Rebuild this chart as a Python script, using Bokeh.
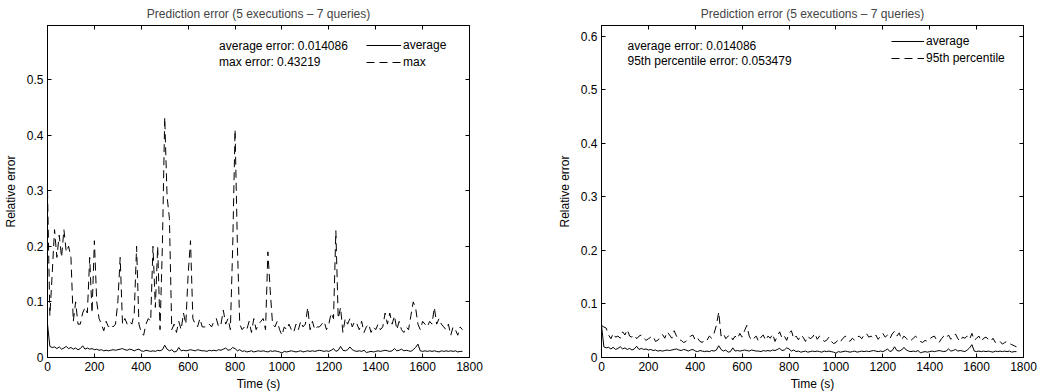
from bokeh.plotting import figure
from bokeh.layouts import row
from bokeh.models import LinearAxis, Label, FixedTicker, Range1d, CustomLabelingPolicy
from bokeh.embed import file_html
from bokeh.resources import INLINE

time_s = list(range(0, 1780, 10))

avg_error = [
    0.060, 0.020, 0.018, 0.019, 0.016, 0.019, 0.015, 0.017, 0.020, 0.016,
    0.018, 0.015, 0.017, 0.014, 0.016, 0.021, 0.015, 0.017, 0.015, 0.016,
    0.014, 0.015, 0.013, 0.014, 0.012, 0.013, 0.012, 0.013, 0.014, 0.013,
    0.014, 0.015, 0.016, 0.014, 0.013, 0.015, 0.014, 0.012, 0.014, 0.015,
    0.012, 0.011, 0.013, 0.012, 0.011, 0.012, 0.011, 0.013, 0.012, 0.014,
    0.022, 0.015, 0.012, 0.014, 0.010, 0.011, 0.018, 0.012, 0.013, 0.012,
    0.013, 0.014, 0.013, 0.012, 0.014, 0.013, 0.012, 0.012, 0.011, 0.013,
    0.012, 0.013, 0.012, 0.014, 0.013, 0.015, 0.017, 0.013, 0.014, 0.018,
    0.016, 0.012, 0.014, 0.011, 0.012, 0.010, 0.011, 0.012, 0.010, 0.011,
    0.012, 0.011, 0.012, 0.011, 0.010, 0.012, 0.011, 0.012, 0.011, 0.010,
    0.008, 0.011, 0.010, 0.011, 0.012, 0.011, 0.010, 0.011, 0.012, 0.010,
    0.011, 0.012, 0.011, 0.012, 0.011, 0.012, 0.013, 0.012, 0.011, 0.012,
    0.011, 0.013, 0.016, 0.011, 0.013, 0.020, 0.013, 0.012, 0.014, 0.019,
    0.014, 0.012, 0.011, 0.012, 0.011, 0.013, 0.009, 0.010, 0.011, 0.010,
    0.011, 0.012, 0.011, 0.012, 0.013, 0.012, 0.011, 0.012, 0.016, 0.012,
    0.013, 0.015, 0.012, 0.013, 0.012, 0.011, 0.014, 0.018, 0.024, 0.012,
    0.011, 0.012, 0.011, 0.012, 0.011, 0.012, 0.011, 0.010, 0.012, 0.011,
    0.012, 0.011, 0.012, 0.011, 0.012, 0.010, 0.011, 0.011,
]

max_error = [
    0.300, 0.075, 0.150, 0.230, 0.180, 0.220, 0.180, 0.230, 0.190, 0.200,
    0.180, 0.065, 0.100, 0.060, 0.060, 0.080, 0.090, 0.080, 0.180, 0.080,
    0.210, 0.100, 0.070, 0.060, 0.048, 0.065, 0.055, 0.060, 0.055, 0.060,
    0.100, 0.180, 0.060, 0.070, 0.060, 0.065, 0.060, 0.080, 0.200, 0.060,
    0.045, 0.040, 0.060, 0.070, 0.065, 0.200, 0.090, 0.200, 0.050, 0.200,
    0.432, 0.290, 0.250, 0.050, 0.060, 0.045, 0.065, 0.050, 0.080, 0.060,
    0.150, 0.210, 0.070, 0.060, 0.055, 0.070, 0.055, 0.055, 0.055, 0.060,
    0.055, 0.065, 0.070, 0.055, 0.060, 0.085, 0.060, 0.070, 0.050, 0.200,
    0.410, 0.200, 0.060, 0.050, 0.055, 0.050, 0.065, 0.045, 0.070, 0.050,
    0.060, 0.065, 0.070, 0.050, 0.190, 0.120, 0.060, 0.055, 0.065, 0.050,
    0.040, 0.055, 0.050, 0.060, 0.050, 0.045, 0.060, 0.050, 0.065, 0.055,
    0.060, 0.090, 0.050, 0.065, 0.050, 0.055, 0.055, 0.060, 0.065, 0.050,
    0.060, 0.080, 0.070, 0.228, 0.070, 0.090, 0.045, 0.070, 0.060, 0.070,
    0.055, 0.065, 0.060, 0.050, 0.065, 0.045, 0.055, 0.060, 0.045, 0.055,
    0.050, 0.060, 0.050, 0.055, 0.080, 0.060, 0.080, 0.060, 0.075, 0.050,
    0.065, 0.050, 0.045, 0.055, 0.050, 0.075, 0.100, 0.090, 0.060, 0.050,
    0.065, 0.060, 0.055, 0.065, 0.060, 0.090, 0.060, 0.070, 0.060, 0.055,
    0.050, 0.060, 0.040, 0.055, 0.050, 0.040, 0.055, 0.050,
]

p95_error = [
    0.060, 0.057, 0.055, 0.042, 0.035, 0.045, 0.038, 0.040, 0.036, 0.048,
    0.042, 0.052, 0.040, 0.038, 0.042, 0.035, 0.040, 0.042, 0.036, 0.032,
    0.035, 0.038, 0.040, 0.030, 0.032, 0.038, 0.043, 0.036, 0.048, 0.042,
    0.036, 0.050, 0.040, 0.033, 0.032, 0.028, 0.030, 0.035, 0.040, 0.042,
    0.032, 0.036, 0.030, 0.028, 0.034, 0.032, 0.040, 0.036, 0.045, 0.060,
    0.085, 0.040, 0.045, 0.035, 0.040, 0.042, 0.033, 0.040, 0.035, 0.045,
    0.038, 0.050, 0.060, 0.040, 0.032, 0.036, 0.040, 0.030, 0.038, 0.042,
    0.032, 0.040, 0.036, 0.044, 0.030, 0.040, 0.048, 0.036, 0.040, 0.032,
    0.045, 0.050, 0.035, 0.040, 0.033, 0.042, 0.038, 0.030, 0.040, 0.035,
    0.038, 0.045, 0.034, 0.040, 0.036, 0.030, 0.032, 0.038, 0.030, 0.026,
    0.028, 0.034, 0.030, 0.036, 0.040, 0.034, 0.030, 0.036, 0.032, 0.038,
    0.040, 0.035, 0.042, 0.045, 0.038, 0.040, 0.036, 0.042, 0.034, 0.040,
    0.045, 0.038, 0.042, 0.035, 0.044, 0.049, 0.040, 0.046, 0.033, 0.040,
    0.036, 0.030, 0.032, 0.036, 0.040, 0.033, 0.030, 0.028, 0.032, 0.030,
    0.035, 0.038, 0.040, 0.032, 0.028, 0.035, 0.040, 0.036, 0.042, 0.034,
    0.038, 0.044, 0.035, 0.030, 0.038, 0.036, 0.040, 0.034, 0.045, 0.032,
    0.036, 0.040, 0.030, 0.036, 0.038, 0.034, 0.030, 0.036, 0.028, 0.032,
    0.030, 0.025, 0.028, 0.030, 0.026, 0.024, 0.022, 0.020,
]

x_ticks = [0, 200, 400, 600, 800, 1000, 1200, 1400, 1600, 1800]
y_ticks_left = [0, 0.1, 0.2, 0.3, 0.4, 0.5]
y_ticks_right = [0, 0.1, 0.2, 0.3, 0.4, 0.5, 0.6]

TITLE = "Prediction error (5 executions \u2013 7 queries)"
FONT = "Liberation Sans"
FS = "12px"

NO_LABELS_JS = """
for (const i of indices)
    indices.unset(i)
return indices
"""


def style_axis(ax, ticks, labels=True):
    ax.ticker = FixedTicker(ticks=ticks)
    ax.major_tick_in = 4
    ax.major_tick_out = 0
    ax.minor_tick_line_color = None
    ax.axis_line_color = "black"
    ax.major_tick_line_color = "black"
    ax.major_label_text_font = FONT
    ax.major_label_text_color = "black"
    ax.axis_label_text_font = FONT
    ax.axis_label_text_font_size = FS
    ax.axis_label_text_font_style = "normal"
    ax.axis_label_text_color = "black"
    if labels:
        ax.major_label_text_font_size = FS
        ax.major_label_standoff = 4
    else:
        ax.major_label_text_font_size = "0px"
        ax.major_label_standoff = 0
        ax.major_label_policy = CustomLabelingPolicy(code=NO_LABELS_JS)


def make_fig(ymax, yticks, border_left, border_right, border_top, border_bottom):
    p = figure(frame_width=422, frame_height=332,
               x_range=Range1d(0, 1800), y_range=Range1d(0, ymax),
               output_backend="svg", toolbar_location=None,
               min_border_left=border_left, min_border_right=border_right,
               min_border_top=border_top, min_border_bottom=border_bottom,
               background_fill_color="white", border_fill_color="white")
    p.title.text = TITLE
    p.title.text_font = FONT
    p.title.text_font_size = FS
    p.title.text_font_style = "normal"
    p.title.align = "center"
    p.title.standoff = 9
    p.grid.visible = False
    p.outline_line_color = "black"
    p.xaxis.axis_label = "Time (s)"
    p.yaxis.axis_label = "Relative error"
    p.xaxis.axis_label_standoff = 3
    p.yaxis.axis_label_standoff = 6
    style_axis(p.xaxis[0], x_ticks)
    style_axis(p.yaxis[0], yticks)
    top = LinearAxis()
    style_axis(top, x_ticks, labels=False)
    p.add_layout(top, "above")
    right = LinearAxis()
    style_axis(right, yticks, labels=False)
    p.add_layout(right, "right")
    return p


p1 = make_fig(0.597, y_ticks_left, 46, 51, 25, 34)
p1.line(time_s, avg_error, line_color="black", line_width=1, legend_label="average")
p1.line(time_s, max_error, line_color="black", line_width=1, line_dash="8 5", legend_label="max")
p1.add_layout(Label(x=732, y=0.5606, text="average error: 0.014086", text_font=FONT,
                    text_font_size=FS, text_baseline="middle", text_color="black"))
p1.add_layout(Label(x=732, y=0.5306, text="max error: 0.43219", text_font=FONT,
                    text_font_size=FS, text_baseline="middle", text_color="black"))

p2 = make_fig(0.62, y_ticks_right, 81, 16, 24, 35)
p2.line(time_s, avg_error, line_color="black", line_width=1, legend_label="average")
p2.line(time_s, p95_error, line_color="black", line_width=1, line_dash="8 5", legend_label="95th percentile")
p2.add_layout(Label(x=111, y=0.5826, text="average error: 0.014086", text_font=FONT,
                    text_font_size=FS, text_baseline="middle", text_color="black"))
p2.add_layout(Label(x=111, y=0.5546, text="95th percentile error: 0.053479", text_font=FONT,
                    text_font_size=FS, text_baseline="middle", text_color="black"))

for p, loc, gw in ((p1, (319, 287), 35), (p2, (290, 291), 33)):
    lg = p.legend[0]
    lg.location = loc
    lg.border_line_color = None
    lg.background_fill_alpha = 0
    lg.padding = 0
    lg.margin = 0
    lg.spacing = 1
    lg.glyph_width = gw
    lg.glyph_height = 16
    lg.label_height = 16
    lg.label_standoff = 2
    lg.label_text_font = FONT
    lg.label_text_font_size = FS
    lg.label_text_color = "black"

layout = row(p1, p2)
open("out.html", "w").write(file_html(layout, INLINE))
